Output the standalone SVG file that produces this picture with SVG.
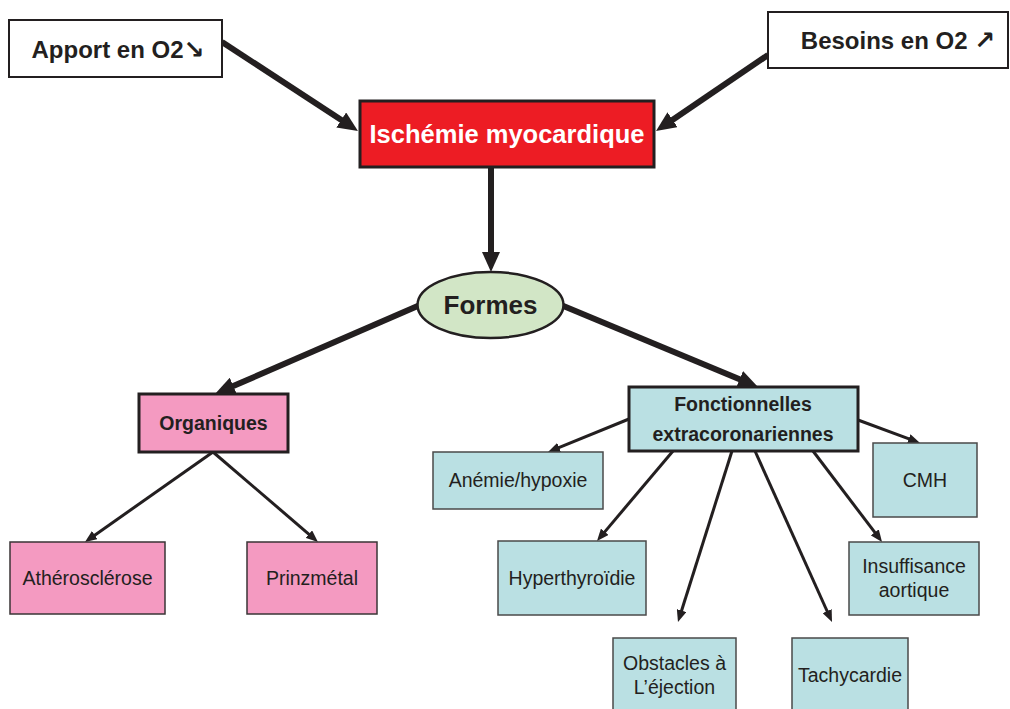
<svg xmlns="http://www.w3.org/2000/svg" width="1010" height="709" viewBox="0 0 1010 709">
<style>
text{font-family:"Liberation Sans",Arial,"DejaVu Sans",sans-serif;fill:#231F20;text-anchor:middle}
.b{font-weight:bold}
.l{font-size:19.5px}
.top{fill:#fff;stroke:#231F20;stroke-width:2}
.leafp{fill:#F49AC1;stroke:#3a3536;stroke-width:1.5}
.leafb{fill:#BAE0E3;stroke:#4a4a4a;stroke-width:1.5}
.thick{stroke:#231F20;stroke-width:6;fill:none}
.thin{stroke:#231F20;stroke-width:3;fill:none}
.arr{font-family:"DejaVu Sans",sans-serif;font-weight:bold;font-size:25px}
</style>
<defs>
<marker id="ah" markerUnits="userSpaceOnUse" markerWidth="20" markerHeight="18" refX="2" refY="9" orient="auto"><path d="M0,0 L20,9 L0,18 z" fill="#231F20"/></marker>
<marker id="as" markerUnits="userSpaceOnUse" markerWidth="12" markerHeight="10" refX="1" refY="5" orient="auto"><path d="M0,0 L12,5 L0,10 z" fill="#231F20"/></marker>
</defs>
<rect width="1010" height="709" fill="#fff"/>
<g id="connectors">
<line class="thick" x1="222" y1="42" x2="342.9" y2="121.1" marker-end="url(#ah)"/>
<line class="thick" x1="768" y1="55" x2="670.9" y2="120.9" marker-end="url(#ah)"/>
<line class="thick" x1="491" y1="167" x2="491" y2="254" marker-end="url(#ah)"/>
<line class="thick" x1="420" y1="305" x2="231.5" y2="386.8" marker-end="url(#ah)"/>
<line class="thick" x1="561" y1="305" x2="741.4" y2="380.1" marker-end="url(#ah)"/>
<line class="thin" x1="213" y1="452" x2="94" y2="535.7" marker-end="url(#as)"/>
<line class="thin" x1="213" y1="452" x2="309.6" y2="534.8" marker-end="url(#as)"/>
<line class="thin" x1="629" y1="419" x2="558.2" y2="447.9" marker-end="url(#as)"/>
<line class="thin" x1="673" y1="451" x2="604.1" y2="532.6" marker-end="url(#as)"/>
<line class="thin" x1="732" y1="451" x2="681.3" y2="611.5" marker-end="url(#as)"/>
<line class="thin" x1="755" y1="451" x2="827.5" y2="612" marker-end="url(#as)"/>
<line class="thin" x1="813" y1="451" x2="875.4" y2="533.2" marker-end="url(#as)"/>
<line class="thin" x1="858" y1="420" x2="909.7" y2="439.2" marker-end="url(#as)"/>
</g>
<g id="apport">
<rect class="top" x="9" y="20" width="213" height="57"/>
<text class="b" x="118" y="58" font-size="24">Apport en O2<tspan class="arr">↘</tspan></text>
</g>
<g id="besoins">
<rect class="top" x="768" y="12" width="240" height="56"/>
<text class="b" x="898" y="49" font-size="24">Besoins en O2 <tspan class="arr">↗</tspan></text>
</g>
<g id="ischemie">
<rect x="360" y="101" width="294" height="66" fill="#ED1C24" stroke="#231F20" stroke-width="3"/>
<text class="b" x="507" y="143" font-size="25.5" style="fill:#fff">Ischémie myocardique</text>
</g>
<g id="formes">
<ellipse cx="490.5" cy="305" rx="73" ry="33" fill="#D2E6C6" stroke="#231F20" stroke-width="2.5"/>
<text class="b" x="490.5" y="314" font-size="26">Formes</text>
</g>
<g id="organiques">
<rect x="139" y="394" width="149" height="58" fill="#F49AC1" stroke="#231F20" stroke-width="3"/>
<text class="b" x="213.5" y="430" font-size="19.5">Organiques</text>
</g>
<g id="fonctionnelles">
<rect x="629" y="387" width="229" height="64" fill="#BAE0E3" stroke="#231F20" stroke-width="3"/>
<text class="b" x="743" y="411" font-size="19.5">Fonctionnelles</text>
<text class="b" x="743" y="441" font-size="19.5">extracoronariennes</text>
</g>
<g id="atherosclerose">
<rect class="leafp" x="10" y="542" width="155" height="72"/>
<text class="l" x="87.5" y="585">Athérosclérose</text>
</g>
<g id="prinzmetal">
<rect class="leafp" x="247" y="542" width="130" height="72"/>
<text class="l" x="312" y="585">Prinzmétal</text>
</g>
<g id="anemie">
<rect class="leafb" x="433" y="452" width="170" height="57"/>
<text class="l" x="518" y="487">Anémie/hypoxie</text>
</g>
<g id="cmh">
<rect class="leafb" x="873" y="443" width="104" height="74"/>
<text class="l" x="925" y="487">CMH</text>
</g>
<g id="hyperthyroidie">
<rect class="leafb" x="498" y="541" width="148" height="74"/>
<text class="l" x="572" y="585">Hyperthyroïdie</text>
</g>
<g id="insuffisance">
<rect class="leafb" x="849" y="542" width="130" height="73"/>
<text class="l" x="914" y="573">Insuffisance</text>
<text class="l" x="914" y="597">aortique</text>
</g>
<g id="obstacles">
<rect class="leafb" x="613" y="638" width="123" height="80"/>
<text class="l" x="674.5" y="670">Obstacles à</text>
<text class="l" x="674.5" y="694">L’éjection</text>
</g>
<g id="tachycardie">
<rect class="leafb" x="792" y="638" width="116" height="80"/>
<text class="l" x="850" y="682">Tachycardie</text>
</g>
</svg>
